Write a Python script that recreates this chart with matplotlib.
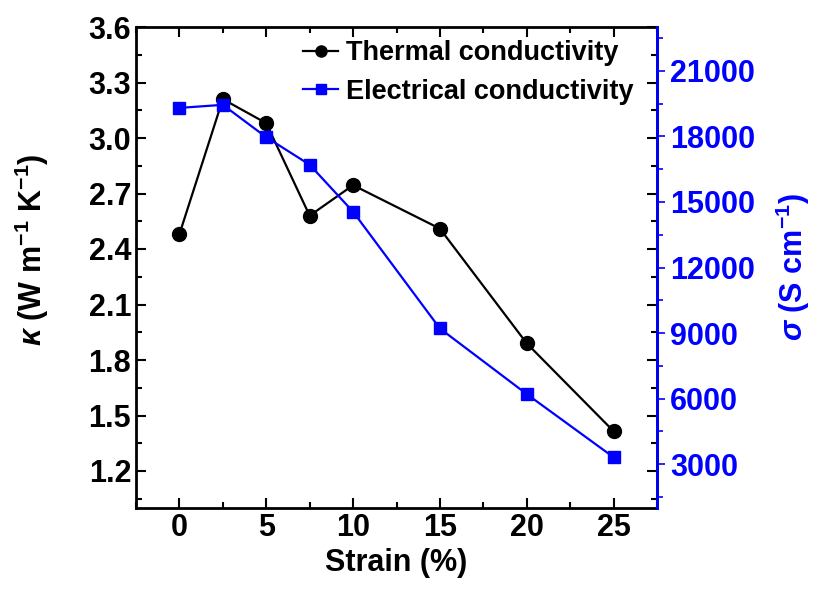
import matplotlib
matplotlib.use("Agg")
import matplotlib.pyplot as plt
from matplotlib.ticker import MultipleLocator

plt.rcParams['font.family'] = ['Liberation Sans', 'DejaVu Sans']
plt.rcParams['font.weight'] = 'bold'
plt.rcParams['mathtext.fontset'] = 'custom'
plt.rcParams['mathtext.rm'] = 'Liberation Sans:bold'
plt.rcParams['mathtext.bf'] = 'Liberation Sans:bold'
plt.rcParams['mathtext.it'] = 'Liberation Sans:italic:bold'

strain = [0, 2.5, 5, 7.5, 10, 15, 20, 25]
thermal = [2.48, 3.21, 3.08, 2.58, 2.745, 2.51, 1.89, 1.415]
electrical = [19300, 19440, 17960, 16700, 14550, 9210, 6210, 3320]

W, H = 817, 593
fig = plt.figure(figsize=(W / 100, H / 100), dpi=100)
ax = fig.add_axes([136 / W, (H - 508) / H, (657 - 136) / W, (508 - 27) / H])
ax2 = ax.twinx()

l1, = ax.plot(strain, thermal, '-o', color='black', lw=1.6, ms=10,
              label='Thermal conductivity')
l2, = ax2.plot(strain, electrical, '-s', color='blue', lw=1.6, ms=9,
               label='Electrical conductivity')

ax.set_xlim(-2.5, 27.5)
ax.set_ylim(1.0, 3.6)
ax2.set_ylim(1000, 23000)

ax.xaxis.set_major_locator(MultipleLocator(5))
ax.xaxis.set_minor_locator(MultipleLocator(2.5))
ax.yaxis.set_minor_locator(MultipleLocator(0.15))
ax2.yaxis.set_minor_locator(MultipleLocator(1500))
ax.set_yticks([1.2, 1.5, 1.8, 2.1, 2.4, 2.7, 3.0, 3.3, 3.6])
ax2.set_yticks([3000, 6000, 9000, 12000, 15000, 18000, 21000])

ax.tick_params(which='both', direction='in', top=True, right=True, width=1.5, labelsize=22)
ax.tick_params(which='major', length=7)
ax.tick_params(which='minor', length=4)
ax2.tick_params(axis='y', which='both', direction='out', colors='blue', width=1.2, labelsize=22)
ax2.tick_params(which='major', length=6)
ax2.tick_params(which='minor', length=4)

for s in ax.spines.values():
    s.set_linewidth(2)
ax2.spines['right'].set_color('blue')
ax2.spines['right'].set_linewidth(2)
for s in ['left', 'top', 'bottom']:
    ax2.spines[s].set_visible(False)

ax.set_xlabel('Strain (%)', fontsize=22, fontweight='bold')
ax.set_ylabel(r'$\kappa$ (W m$^{-1}$ K$^{-1}$)', fontsize=22, fontweight='bold')
ax2.set_ylabel(r'$\sigma$ (S cm$^{-1}$)', fontsize=22, fontweight='bold', color='blue')
ax.yaxis.set_label_coords(-0.163, 0.536)
ax2.yaxis.set_label_coords(1.224, 0.5)

ax2.legend([l1, l2], [l1.get_label(), l2.get_label()], loc='upper left',
           bbox_to_anchor=(0.3205, 0.972), frameon=False, fontsize=19.5,
           handlelength=1.3, handletextpad=0.3, borderpad=0, borderaxespad=0,
           labelspacing=0.45, markerscale=0.8)

fig.savefig('out.png', dpi=100)
